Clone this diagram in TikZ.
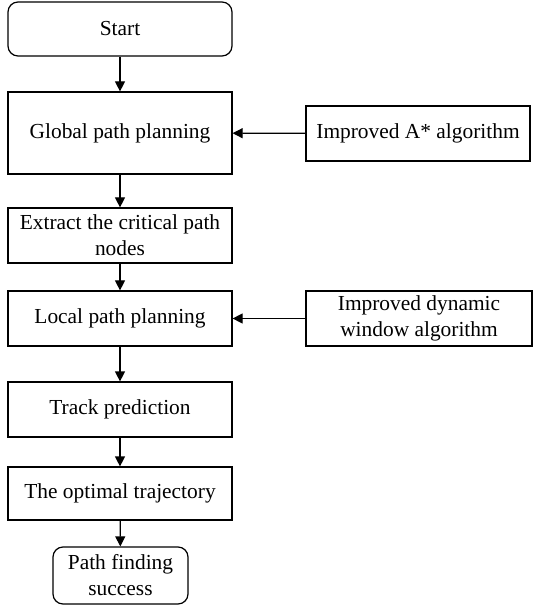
\documentclass[tikz,border=0pt]{standalone}
\usepackage{fontspec}
\setmainfont{Liberation Serif}
\usetikzlibrary{arrows.meta,positioning}

\begin{document}
\begin{tikzpicture}[x=0.5pt,y=-0.5pt,line width=0.6pt,
			main node/.style={
				rectangle, draw=black, rounded corners=5pt,
				fill=white, text=black, align=center,
				font=\fontsize{10.7}{13}\selectfont,
				inner sep=1pt},
			second node/.style={
				rectangle, draw=black,
				fill=white, text=black, align=center,
				font=\fontsize{10.7}{13}\selectfont,
				inner sep=1pt, minimum width=112pt, minimum height=27.5pt}
			]
			\useasboundingbox (0,0) rectangle (534,608);
			\node[main node,minimum width=112pt,minimum height=27pt] (1) at (120,29)
			{Start};
			\node[second node,minimum height=41pt] (2) at (120,133)
			{Global path planning};
			\node[second node] (3) at (418,133.5)
			{Improved A* algorithm};
			\node[second node] (4) at (120,235.5)
			{Extract the critical path\\nodes};
			\node[second node] (5) at (120,318.5)
			{Local path planning};
			\node[second node,minimum width=113pt] (6) at (419,318.5)
			{Improved dynamic\\window algorithm};
			\node[second node] (7) at (120,409.5)
			{Track prediction};
			\node[second node,minimum height=26.5pt] (8) at (120,493.5)
			{The optimal trajectory};
			\node[main node,minimum width=67.5pt,minimum height=28.5pt] (9) at (120.5,575.5)
			{Path finding\\success};
			
			\path[every edge/.style={draw,-{Triangle[length=5pt,width=5pt]}}]
			(1) edge (2)
			(3) edge (2)
			(2) edge (4)
			(4) edge (5)
			(6) edge (5)
			(5) edge (7)
			(7) edge (8)
			(8) edge (9);
		\end{tikzpicture}
\end{document}
